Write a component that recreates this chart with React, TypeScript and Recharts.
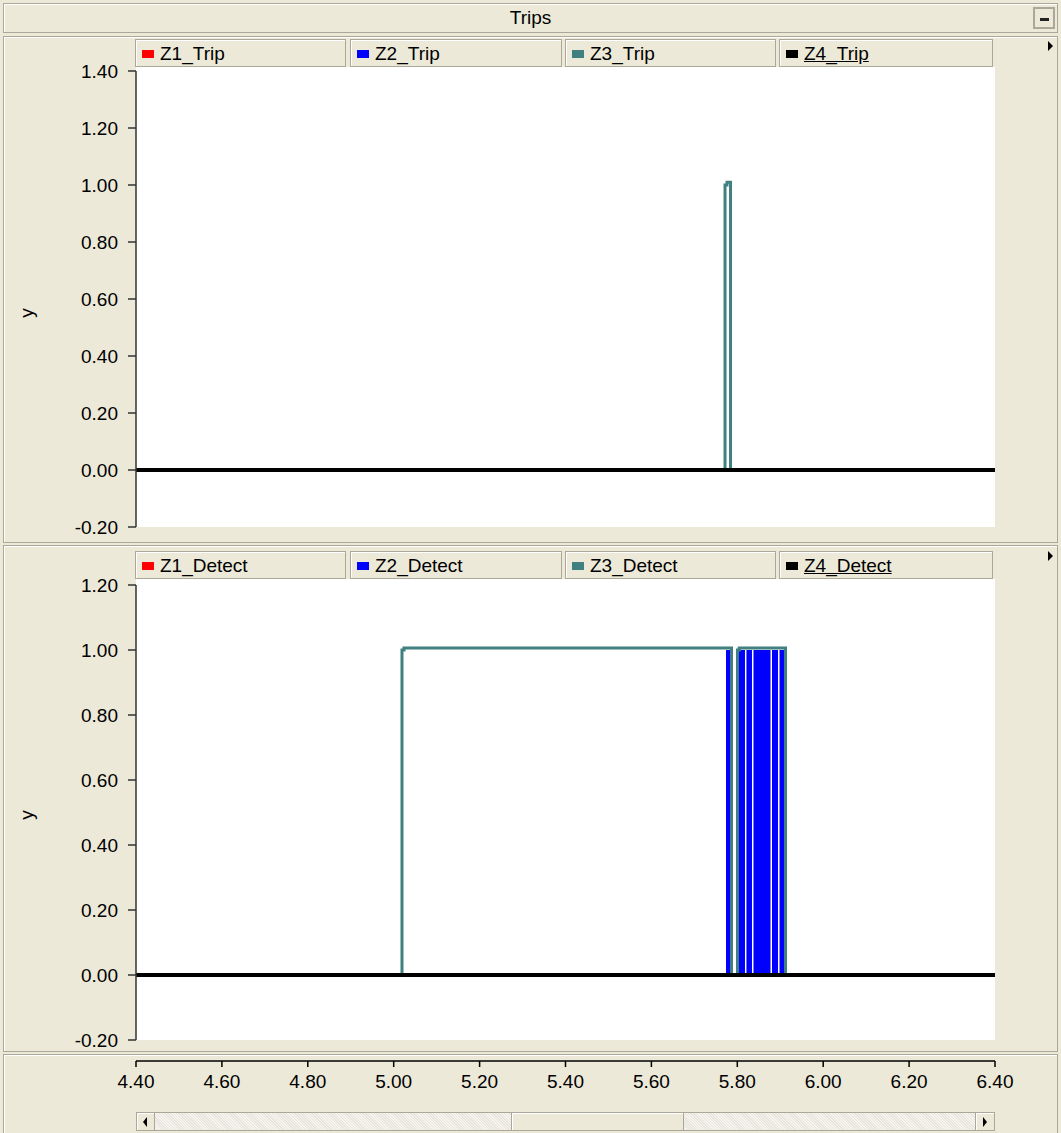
import React from 'react';
import { ComposedChart, Line, Area, XAxis, YAxis } from 'recharts';

const FONT = '"Liberation Sans", Arial, sans-serif';
const BG = '#ECE9D8';
const BORDER = '#ACA899';

const xTicks = [4.4, 4.6, 4.8, 5.0, 5.2, 5.4, 5.6, 5.8, 6.0, 6.2, 6.4];
const tripYTicks = [-0.2, 0, 0.2, 0.4, 0.6, 0.8, 1.0, 1.2, 1.4];
const detectYTicks = [-0.2, 0, 0.2, 0.4, 0.6, 0.8, 1.0, 1.2];

const tripNames = ['Z1_Trip', 'Z2_Trip', 'Z3_Trip', 'Z4_Trip'];
const detectNames = ['Z1_Detect', 'Z2_Detect', 'Z3_Detect', 'Z4_Detect'];
const seriesColors = ['#FF0000', '#0000FF', '#408080', '#000000'];

// Trips
const z1TripX = [4.4, 6.4];
const z1TripY = [0, 0];
const z2TripX = [4.4, 6.4];
const z2TripY = [0, 0];
const z3TripX = [4.4, 5.7714, 5.776, 5.7842, 6.4];
const z3TripY = [0, 1.0, 1.01, 0, 0];
const z4TripX = [4.4, 6.4];
const z4TripY = [0, 0];

// Detects
const z1DetX = [4.4, 6.4];
const z1DetY = [0, 0];
const z2DetX = [4.4, 5.7737, 5.7865, 5.8028, 5.8179, 5.8213, 5.8342, 5.8377, 5.8773, 5.8808, 5.8948, 5.8983, 5.911, 6.4];
const z2DetY = [0, 1, 0, 1, 0, 1, 0, 1, 0, 1, 0, 1, 0, 0];
const z3DetX = [4.4, 5.0193, 5.024, 5.7865, 5.8005, 5.8045, 5.9122, 6.4];
const z3DetY = [0, 1.0, 1.006, 0, 1.0, 1.006, 0, 0];
const z4DetX = [4.4, 6.4];
const z4DetY = [0, 0];

const toPts = (xs: number[], ys: number[]) => xs.map((x, i) => ({ x, y: ys[i] }));

const legendBoxes = [
  { left: 135, width: 211 },
  { left: 350, width: 212 },
  { left: 565, width: 211 },
  { left: 779, width: 214 },
];

function Legend({ top, names }: { top: number; names: string[] }) {
  return (
    <>
      {names.map((n, i) => (
        <div
          key={n}
          style={{
            position: 'absolute',
            left: legendBoxes[i].left,
            top,
            width: legendBoxes[i].width,
            height: 28,
            boxSizing: 'border-box',
            border: `1px solid ${BORDER}`,
            boxShadow: 'inset 1px 1px 0 #fff',
            background: BG,
          }}
        >
          <div
            style={{
              position: 'absolute',
              left: 6,
              top: 10,
              width: 12,
              height: 8,
              background: seriesColors[i],
            }}
          />
          <div
            style={{
              position: 'absolute',
              left: 24,
              top: 3,
              fontSize: 19,
              lineHeight: '22px',
              fontFamily: FONT,
              color: '#000',
              textDecoration: i === 3 ? 'underline' : 'none',
            }}
          >
            {n}
          </div>
        </div>
      ))}
    </>
  );
}

function PanelBox({ top, height }: { top: number; height: number }) {
  return (
    <div
      style={{
        position: 'absolute',
        left: 3,
        top,
        width: 1055,
        height,
        boxSizing: 'border-box',
        border: `1px solid ${BORDER}`,
        boxShadow: 'inset 1px 1px 0 #fff',
        background: BG,
      }}
    />
  );
}

function Arrow({ top }: { top: number }) {
  return (
    <div
      style={{
        position: 'absolute',
        left: 1048,
        top,
        width: 0,
        height: 0,
        borderTop: '5px solid transparent',
        borderBottom: '5px solid transparent',
        borderLeft: '5px solid #000',
      }}
    />
  );
}

function YLabel({ top }: { top: number }) {
  return (
    <div
      style={{
        position: 'absolute',
        left: 17,
        top: top - 11,
        width: 20,
        height: 22,
        lineHeight: '22px',
        textAlign: 'center',
        fontSize: 19,
        fontFamily: FONT,
        color: '#000',
        transform: 'rotate(-90deg)',
      }}
    >
      y
    </div>
  );
}

const tickStyle = { fill: '#000', fontSize: 19, fontFamily: FONT };

function SeriesChart({
  top,
  marginTop,
  marginBottom,
  yTicks,
  yDomain,
  series,
  areaIndex,
}: {
  top: number;
  marginTop: number;
  marginBottom: number;
  yTicks: number[];
  yDomain: [number, number];
  series: { x: number; y: number }[][];
  areaIndex: number;
}) {
  return (
    <div style={{ position: 'absolute', left: 0, top }}>
      <ComposedChart
        width={1061}
        height={507}
        margin={{ top: marginTop, right: 66, bottom: marginBottom, left: 0 }}
      >
        <XAxis type="number" dataKey="x" domain={[4.4, 6.4]} hide allowDataOverflow />
        <YAxis
          type="number"
          domain={yDomain}
          ticks={yTicks}
          interval={0}
          allowDataOverflow
          width={136}
          tickFormatter={(v: number) => v.toFixed(2)}
          tick={tickStyle}
          tickSize={8}
          tickMargin={10}
          tickLine={{ stroke: '#333', strokeWidth: 1.5 }}
          axisLine={{ stroke: '#333', strokeWidth: 1.5 }}
        />
        {series.map((pts, i) =>
          i === areaIndex ? (
            <Area
              key={i}
              type="stepAfter"
              data={pts}
              dataKey="y"
              stroke="none"
              fill={seriesColors[i]}
              fillOpacity={1}
              baseValue={0}
              dot={false}
              activeDot={false}
              isAnimationActive={false}
            />
          ) : (
            <Line
              key={i}
              type="stepAfter"
              data={pts}
              dataKey="y"
              stroke={seriesColors[i]}
              strokeWidth={i === 3 ? 4 : 3}
              dot={false}
              activeDot={false}
              isAnimationActive={false}
            />
          )
        )}
      </ComposedChart>
    </div>
  );
}

export default function App() {
  const tripSeries = [
    toPts(z1TripX, z1TripY),
    toPts(z2TripX, z2TripY),
    toPts(z3TripX, z3TripY),
    toPts(z4TripX, z4TripY),
  ];
  const detectSeries = [
    toPts(z1DetX, z1DetY),
    toPts(z2DetX, z2DetY),
    toPts(z3DetX, z3DetY),
    toPts(z4DetX, z4DetY),
  ];
  const axisPts = toPts([4.4, 6.4], [0, 0]);

  return (
    <div
      style={{
        position: 'absolute',
        left: 0,
        top: 0,
        width: 1061,
        height: 1133,
        background: BG,
        overflow: 'hidden',
        fontFamily: FONT,
      }}
    >
      {/* Title bar */}
      <div
        style={{
          position: 'absolute',
          left: 3,
          top: 3,
          width: 1055,
          height: 30,
          boxSizing: 'border-box',
          border: `1px solid ${BORDER}`,
          boxShadow: 'inset 1px 1px 0 #fff',
          textAlign: 'center',
          fontSize: 19,
          lineHeight: '28px',
          color: '#000',
        }}
      >
        Trips
      </div>
      <div
        style={{
          position: 'absolute',
          left: 1033,
          top: 7,
          width: 22,
          height: 22,
          boxSizing: 'border-box',
          border: `2px solid ${BORDER}`,
          background: BG,
        }}
      >
        <div style={{ position: 'absolute', left: 5, top: 9, width: 9, height: 3, background: '#222' }} />
      </div>

      {/* Top panel */}
      <PanelBox top={36} height={507} />
      <div style={{ position: 'absolute', left: 136, top: 67, width: 859, height: 460, background: '#fff' }} />
      <Arrow top={41} />
      <YLabel top={313} />
      <SeriesChart
        top={36}
        marginTop={35}
        marginBottom={16}
        yTicks={tripYTicks}
        yDomain={[-0.2, 1.4]}
        series={tripSeries}
        areaIndex={-1}
      />
      <Legend top={39} names={tripNames} />

      {/* Bottom panel */}
      <PanelBox top={545} height={507} />
      <div style={{ position: 'absolute', left: 136, top: 579, width: 859, height: 461, background: '#fff' }} />
      <Arrow top={551} />
      <YLabel top={815} />
      <SeriesChart
        top={545}
        marginTop={40}
        marginBottom={12}
        yTicks={detectYTicks}
        yDomain={[-0.2, 1.2]}
        series={detectSeries}
        areaIndex={1}
      />
      <Legend top={551} names={detectNames} />

      {/* X axis panel */}
      <PanelBox top={1054} height={85} />
      <div style={{ position: 'absolute', left: 0, top: 1054 }}>
        <ComposedChart width={1061} height={79} margin={{ top: 0, right: 66, bottom: 0, left: 136 }}>
          <XAxis
            type="number"
            dataKey="x"
            domain={[4.4, 6.4]}
            ticks={xTicks}
            interval={0}
            allowDataOverflow
            height={72}
            tickFormatter={(v: number) => v.toFixed(2)}
            tick={tickStyle}
            tickSize={6}
            tickMargin={8}
            tickLine={{ stroke: '#000', strokeWidth: 1.5 }}
            axisLine={{ stroke: '#000', strokeWidth: 1.5 }}
          />
          <YAxis hide domain={[0, 1]} />
          <Line data={axisPts} dataKey="y" stroke="none" dot={false} isAnimationActive={false} />
        </ComposedChart>
      </div>

      {/* Scrollbar */}
      <div
        style={{
          position: 'absolute',
          left: 136,
          top: 1112,
          width: 859,
          height: 19,
          boxSizing: 'border-box',
          border: `1px solid ${BORDER}`,
          background: 'repeating-linear-gradient(45deg, #F5F4EE 0px, #F5F4EE 1px, #E8E6DC 1px, #E8E6DC 2px)',
        }}
      />
      <div
        style={{
          position: 'absolute',
          left: 136,
          top: 1112,
          width: 19,
          height: 19,
          boxSizing: 'border-box',
          border: `1px solid ${BORDER}`,
          boxShadow: 'inset 1px 1px 0 #fff',
          background: BG,
        }}
      >
        <div
          style={{
            position: 'absolute',
            left: 6,
            top: 4,
            width: 0,
            height: 0,
            borderTop: '5px solid transparent',
            borderBottom: '5px solid transparent',
            borderRight: '4px solid #000',
          }}
        />
      </div>
      <div
        style={{
          position: 'absolute',
          left: 975,
          top: 1112,
          width: 20,
          height: 19,
          boxSizing: 'border-box',
          border: `1px solid ${BORDER}`,
          boxShadow: 'inset 1px 1px 0 #fff',
          background: BG,
        }}
      >
        <div
          style={{
            position: 'absolute',
            left: 7,
            top: 4,
            width: 0,
            height: 0,
            borderTop: '5px solid transparent',
            borderBottom: '5px solid transparent',
            borderLeft: '4px solid #000',
          }}
        />
      </div>
      <div
        style={{
          position: 'absolute',
          left: 511,
          top: 1112,
          width: 173,
          height: 19,
          boxSizing: 'border-box',
          border: `1px solid ${BORDER}`,
          boxShadow: 'inset 1px 1px 0 #fff',
          background: BG,
        }}
      />
    </div>
  );
}
